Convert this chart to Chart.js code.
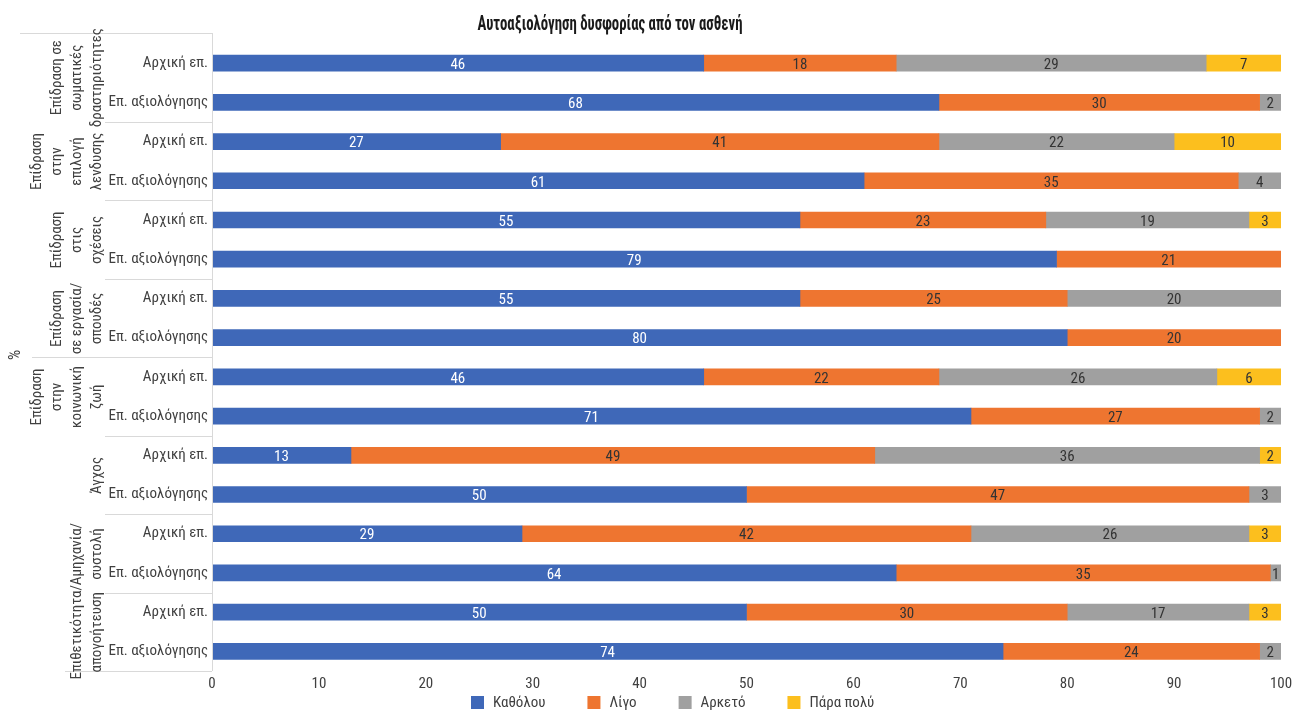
<!DOCTYPE html>
<html lang="el">
<head>
    <meta charset="UTF-8">
    <title>Αυτοαξιολόγηση δυσφορίας</title>
    <script src="https://cdn.jsdelivr.net/npm/chart.js"></script>
    <style>
        body {
            margin: 0;
            background: #fff;
        }
        .chart-container {
            width: 1292px;
            height: 711px;
        }
    </style>
</head>
<body>
    <div class="chart-container">
        <canvas id="dysChart"></canvas>
    </div>
    <script>
        const FONT = '"Roboto Condensed", "Roboto", sans-serif';

        const title = 'Αυτοαξιολόγηση δυσφορίας από τον ασθενή';
        const barLabels = [];
        for (let i = 0; i < 8; i++) barLabels.push('Αρχική επ.', 'Επ. αξιολόγησης');

        // outer category labels, one line per entry
        const groups = [
            ['Επίδραση σε', 'σωματικές', 'δραστηριότητες'],
            ['Επίδραση', 'στην', 'επιλογή', 'λενδυσης'],
            ['Επίδραση', 'στις', 'σχέσεις'],
            ['Επίδραση', 'σε εργασία/', 'σπουδές'],
            ['Επίδραση', 'στην', 'κοινωνική', 'ζωή'],
            ['Άγχος'],
            ['Αμηχανία/', 'συστολή'],
            ['Επιθετικότητα/', 'απογοήτευση']
        ];
        const axisTitle = '%';

        const seriesNames = ['Καθόλου', 'Λίγο', 'Αρκετό', 'Πάρα πολύ'];
        const katholou = [46, 68, 27, 61, 55, 79, 55, 80, 46, 71, 13, 50, 29, 64, 50, 74];
        const ligo     = [18, 30, 41, 35, 23, 21, 25, 20, 22, 27, 49, 47, 42, 35, 30, 24];
        const arketo   = [29, 2, 22, 4, 19, null, 20, null, 26, 2, 36, 3, 26, 1, 17, 2];
        const paraPoly = [7, null, 10, null, 3, null, null, null, 6, null, 2, null, 3, null, 3, null];

        const colors = ['#3f68b8', '#ee7530', '#a0a0a0', '#fcbf1e'];
        const labelColors = ['#ffffff', '#333333', '#333333', '#333333'];

        // segment values, group labels, title and legend
        const extrasPlugin = {
            id: 'extras',
            afterDatasetsDraw(chart) {
                const ctx = chart.ctx;
                ctx.save();
                ctx.font = '15px ' + FONT;
                ctx.textAlign = 'center';
                ctx.textBaseline = 'middle';
                chart.data.datasets.forEach((ds, di) => {
                    const meta = chart.getDatasetMeta(di);
                    meta.data.forEach((el, i) => {
                        const v = ds.data[i];
                        if (!v) return;
                        ctx.fillStyle = labelColors[di];
                        ctx.fillText(String(v), (el.x + el.base) / 2, el.y + 2);
                    });
                });
                ctx.restore();
            },
            afterDraw(chart) {
                const ctx = chart.ctx;
                const area = chart.chartArea;
                const y = chart.scales.y;
                const topLine = 33;
                ctx.save();

                // separators
                ctx.strokeStyle = '#d9d9d9';
                ctx.lineWidth = 1;
                ctx.beginPath();
                ctx.moveTo(area.left + 0.5, topLine);
                ctx.lineTo(area.left + 0.5, area.bottom);
                ctx.moveTo(20, topLine + 0.5);
                ctx.lineTo(area.left, topLine + 0.5);
                ctx.moveTo(65, area.bottom + 0.5);
                ctx.lineTo(area.left, area.bottom + 0.5);
                const bounds = [topLine];
                for (let g = 1; g < groups.length; g++) {
                    const b = Math.round((y.getPixelForValue(2 * g - 1) + y.getPixelForValue(2 * g)) / 2) + 0.5;
                    bounds.push(b);
                    ctx.moveTo(g === 4 ? 32 : 105, b);
                    ctx.lineTo(area.left, b);
                }
                bounds.push(area.bottom);
                ctx.stroke();

                // group labels, rotated
                ctx.fillStyle = '#404040';
                ctx.font = '15px ' + FONT;
                ctx.textAlign = 'center';
                ctx.textBaseline = 'middle';
                groups.forEach((lines, g) => {
                    const cy = (bounds[g] + bounds[g + 1]) / 2;
                    lines.forEach((ln, k) => {
                        const cx = 97 - (lines.length - 1 - k) * 20;
                        ctx.save();
                        ctx.translate(cx, cy);
                        ctx.rotate(-Math.PI / 2);
                        ctx.fillText(ln, 0, 0);
                        ctx.restore();
                    });
                });

                ctx.save();
                ctx.font = '16px ' + FONT;
                ctx.translate(16, 355);
                ctx.rotate(-Math.PI / 2);
                ctx.fillText(axisTitle, 0, 0);
                ctx.restore();

                // title, squeezed to the narrow bold face of the original
                ctx.save();
                ctx.fillStyle = '#1a1a1a';
                ctx.font = 'bold 21px ' + FONT;
                const tw = ctx.measureText(title).width;
                ctx.translate(610, 25);
                ctx.scale(265 / tw, 1);
                ctx.fillText(title, 0, 0);
                ctx.restore();

                // legend
                ctx.font = '15px ' + FONT;
                ctx.textAlign = 'left';
                let lx = 471;
                const ly = 703;
                chart.data.datasets.forEach((ds) => {
                    ctx.fillStyle = ds.backgroundColor;
                    ctx.fillRect(lx, ly - 7, 13, 13);
                    ctx.fillStyle = '#404040';
                    ctx.fillText(ds.label, lx + 22, ly);
                    lx += 22 + ctx.measureText(ds.label).width + 42;
                });
                ctx.restore();
            }
        };

        const values = [katholou, ligo, arketo, paraPoly];
        const ctx = document.getElementById('dysChart').getContext('2d');
        new Chart(ctx, {
            type: 'bar',
            data: {
                labels: barLabels,
                datasets: seriesNames.map((name, i) => ({
                    label: name,
                    data: values[i],
                    backgroundColor: colors[i],
                    borderWidth: 0,
                    barThickness: 16
                }))
            },
            options: {
                indexAxis: 'y',
                responsive: true,
                maintainAspectRatio: false,
                animation: false,
                layout: {
                    padding: { top: 43.5, right: 11, left: 0, bottom: 0 }
                },
                plugins: {
                    legend: { display: false },
                    title: { display: false },
                    tooltip: { enabled: false }
                },
                scales: {
                    x: {
                        stacked: true,
                        min: 0,
                        max: 100,
                        ticks: {
                            stepSize: 10,
                            padding: 4,
                            color: '#404040',
                            font: { family: FONT, size: 15 }
                        },
                        grid: { display: false, drawTicks: false },
                        border: { display: false },
                        afterFit(scale) {
                            scale.height = 40;
                            scale.paddingLeft = 0;
                            scale.paddingRight = 0;
                        }
                    },
                    y: {
                        stacked: true,
                        ticks: {
                            padding: 4,
                            color: '#404040',
                            font: { family: FONT, size: 15 },
                            autoSkip: false
                        },
                        grid: { display: false, drawTicks: false },
                        border: { display: false },
                        afterFit(scale) { scale.width = 212; }
                    }
                }
            },
            plugins: [extrasPlugin]
        });
    </script>
</body>
</html>
